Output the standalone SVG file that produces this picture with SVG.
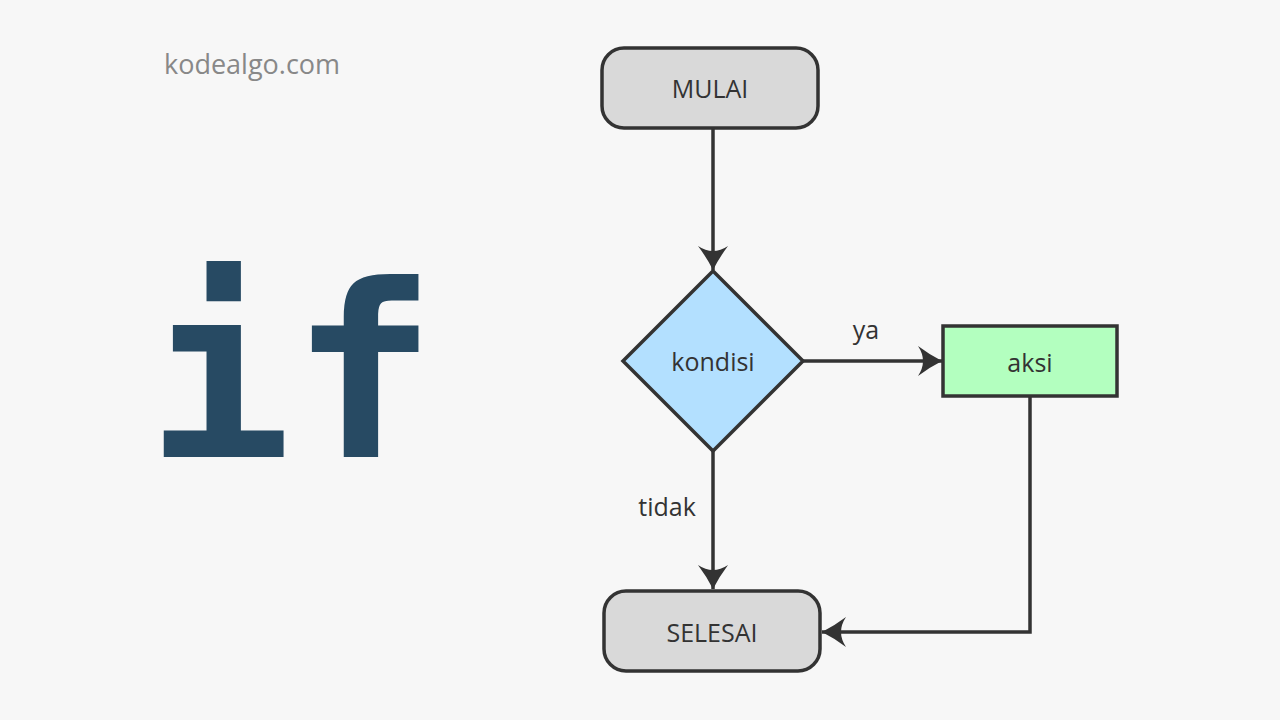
<svg xmlns="http://www.w3.org/2000/svg" width="1280" height="720" viewBox="0 0 1280 720">
<style>
.lbl{font-family:"Open Sans","Noto Sans",sans-serif;font-size:25px;fill:#333;text-anchor:middle;dominant-baseline:central}
.shape{stroke:#333;stroke-width:3.5}
.conn{stroke:#333;stroke-width:3.5;fill:none;marker-end:url(#ah)}
</style>
<defs>
<marker id="ah" markerUnits="userSpaceOnUse" markerWidth="40" markerHeight="40" viewBox="-30 -20 40 40" refX="0" refY="0" orient="auto" overflow="visible">
<path d="M0,0 Q-12,-6 -24,-15 Q-14,0 -24,15 Q-12,6 0,0 Z" fill="#333"/>
</marker>
</defs>
<rect width="1280" height="720" fill="#f7f7f7"/>
<text x="164" y="74" style="font-family:'Open Sans','Noto Sans',sans-serif;font-size:27px;fill:#888">kodealgo.com</text>
<text x="147" y="457" style="font-family:'DejaVu Sans Mono',monospace;font-weight:bold;font-size:240px;fill:#274a63">if</text>
<g id="connectors">
<line class="conn" x1="713" y1="128" x2="713" y2="270"/>
<line class="conn" x1="803" y1="361" x2="942" y2="361"/>
<line class="conn" x1="713" y1="451" x2="713" y2="589"/>
<polyline class="conn" points="1030,396 1030,632 822,632"/>
<text class="lbl" x="866" y="329">ya</text>
<text class="lbl" x="667" y="506">tidak</text>
</g>
<g id="mulai">
<rect class="shape" x="602" y="48" width="216" height="80" rx="22" fill="#d9d9d9"/>
<text class="lbl" x="710" y="88">MULAI</text>
</g>
<g id="kondisi">
<polygon class="shape" points="713,271 803,361 713,451 623,361" fill="#b3e0ff"/>
<text class="lbl" x="713" y="361">kondisi</text>
</g>
<g id="aksi">
<rect class="shape" x="943" y="326" width="174" height="70" fill="#b3ffbf"/>
<text class="lbl" x="1030" y="362">aksi</text>
</g>
<g id="selesai">
<rect class="shape" x="604" y="591" width="216" height="80" rx="22" fill="#d9d9d9"/>
<text class="lbl" x="712" y="632">SELESAI</text>
</g>
</svg>
